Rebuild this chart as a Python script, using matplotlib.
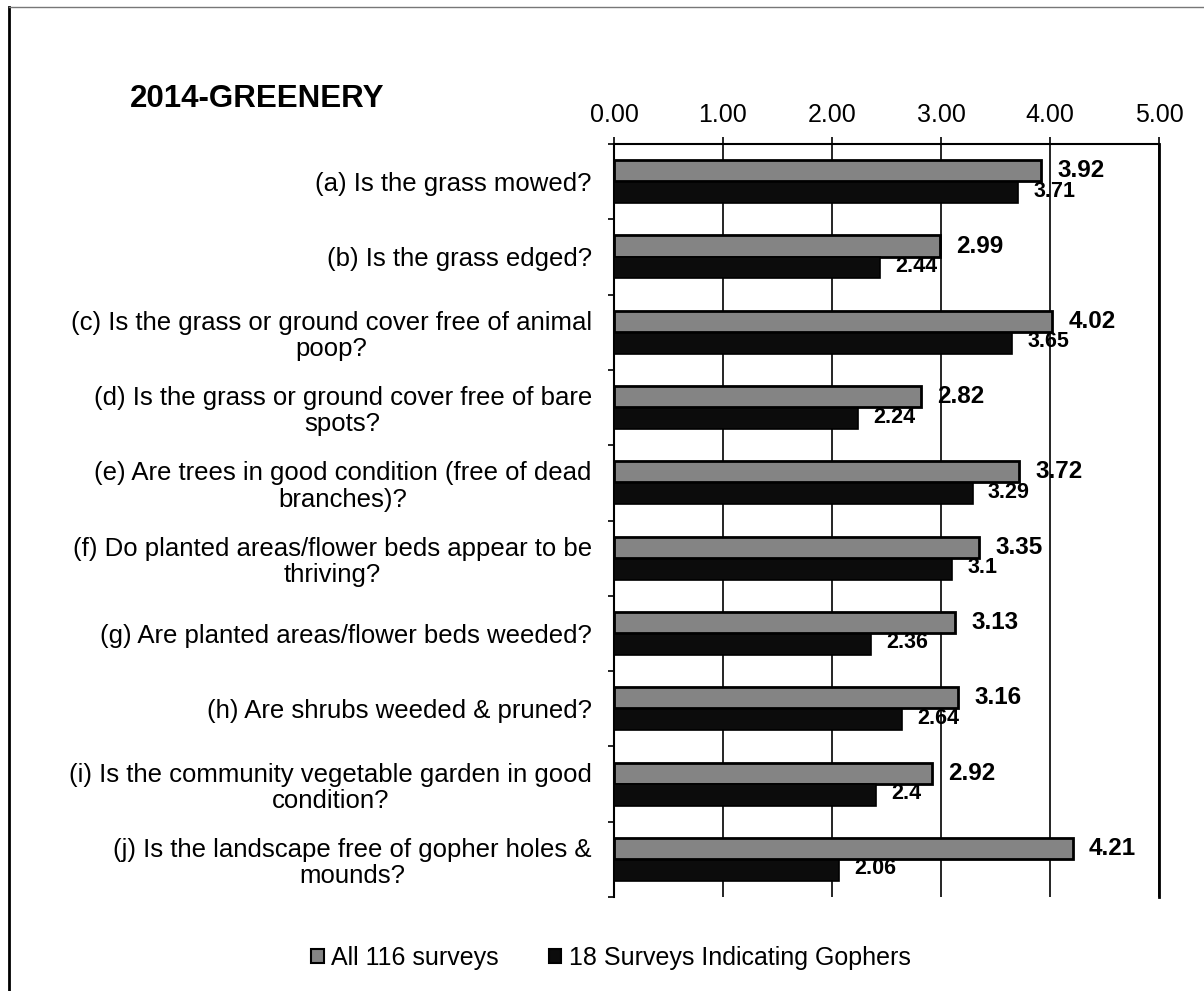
import matplotlib
matplotlib.use("Agg")
import matplotlib.pyplot as plt
from matplotlib.lines import Line2D
from matplotlib.patches import Patch
import numpy as np

plt.rcParams['font.family'] = ['Liberation Sans', 'DejaVu Sans']

categories = [
    "(a) Is the grass mowed?",
    "(b) Is the grass edged?",
    "(c) Is the grass or ground cover free of animal\npoop?",
    "(d) Is the grass or ground cover free of bare\nspots?",
    "(e) Are trees in good condition (free of dead\nbranches)?",
    "(f) Do planted areas/flower beds appear to be\nthriving?",
    "(g) Are planted areas/flower beds weeded?",
    "(h) Are shrubs weeded & pruned?",
    "(i) Is the community vegetable garden in good\ncondition?",
    "(j) Is the landscape free of gopher holes &\nmounds?",
]
all_surveys = [3.92, 2.99, 4.02, 2.82, 3.72, 3.35, 3.13, 3.16, 2.92, 4.21]
gopher_surveys = [3.71, 2.44, 3.65, 2.24, 3.29, 3.1, 2.36, 2.64, 2.4, 2.06]
series_names = ["All 116 surveys", "18 Surveys Indicating Gophers"]
x_ticks = [0, 1, 2, 3, 4, 5]
x_tick_labels = ["0.00", "1.00", "2.00", "3.00", "4.00", "5.00"]
title = "2014-GREENERY"

W, H = 1204, 991
fig = plt.figure(figsize=(W / 100, H / 100), dpi=100)
fig.patch.set_facecolor("white")
ax = fig.add_axes([614 / W, 1 - 897 / H, (1159 - 614) / W, (897 - 144) / H])

gray = "#848484"
dark = "#0c0c0c"
n = len(categories)
y = np.arange(n)
h = 0.28
off = 0.145

ax.barh(y - off, all_surveys, height=h, color=gray, edgecolor="black", linewidth=2, zorder=3)
ax.barh(y + off, gopher_surveys, height=h, color=dark, edgecolor="black", linewidth=1.2, zorder=3)

for yi, v in zip(y, all_surveys):
    ax.annotate(f"{v:g}", (v, yi - off), xytext=(11.5, 0), textcoords="offset points",
                ha="left", va="center", fontsize=17.5, fontweight="bold", zorder=4)
for yi, v in zip(y, gopher_surveys):
    ax.annotate(f"{v:g}", (v, yi + off), xytext=(11, 1), textcoords="offset points",
                ha="left", va="center", fontsize=15.5, fontweight="bold", zorder=4)

ax.set_xlim(0, 5)
ax.set_ylim(n - 0.5, -0.5)
ax.xaxis.tick_top()
ax.set_xticks(x_ticks)
ax.set_xticklabels(x_tick_labels, fontsize=18)
ax.tick_params(axis="x", direction="out", length=5, width=1.2, pad=7, colors="black")
ax.grid(axis="x", color="black", linewidth=1.2, zorder=0)
ax.set_axisbelow(True)

ax.set_yticks(y)
ax.set_yticklabels(categories, fontsize=18.5, ha="right", multialignment="center", linespacing=1.12)
ax.tick_params(axis="y", which="major", length=0, pad=16)
ax.set_yticks(np.arange(n + 1) - 0.5, minor=True)
ax.tick_params(axis="y", which="minor", direction="out", length=4.5, width=1.2)

for s in ["top", "left"]:
    ax.spines[s].set_linewidth(1.5)
    ax.spines[s].set_color("black")
ax.spines["bottom"].set_visible(False)
ax.spines["right"].set_linewidth(2)

fig.text(130 / W, 1 - 99 / H, title, fontsize=22.5, fontweight="bold", ha="left", va="center")

handles = [Patch(facecolor=gray, edgecolor="black", linewidth=1.5),
           Patch(facecolor=dark, edgecolor="black", linewidth=1.5)]
fig.legend(handles, series_names, loc="center", bbox_to_anchor=(611 / W, 1 - 958 / H),
           ncol=2, frameon=False, fontsize=18, handlelength=0.5, handleheight=0.5,
           handletextpad=0.3, columnspacing=2.0)

# figure border lines (left and top)
fig.add_artist(Line2D([9 / W, 9 / W], [0, 1 - 7 / H], transform=fig.transFigure,
                      color="black", linewidth=2))
fig.add_artist(Line2D([9 / W, 1], [1 - 7 / H, 1 - 7 / H], transform=fig.transFigure,
                      color="#777777", linewidth=1))

fig.savefig("out.png", dpi=100, facecolor="white")
